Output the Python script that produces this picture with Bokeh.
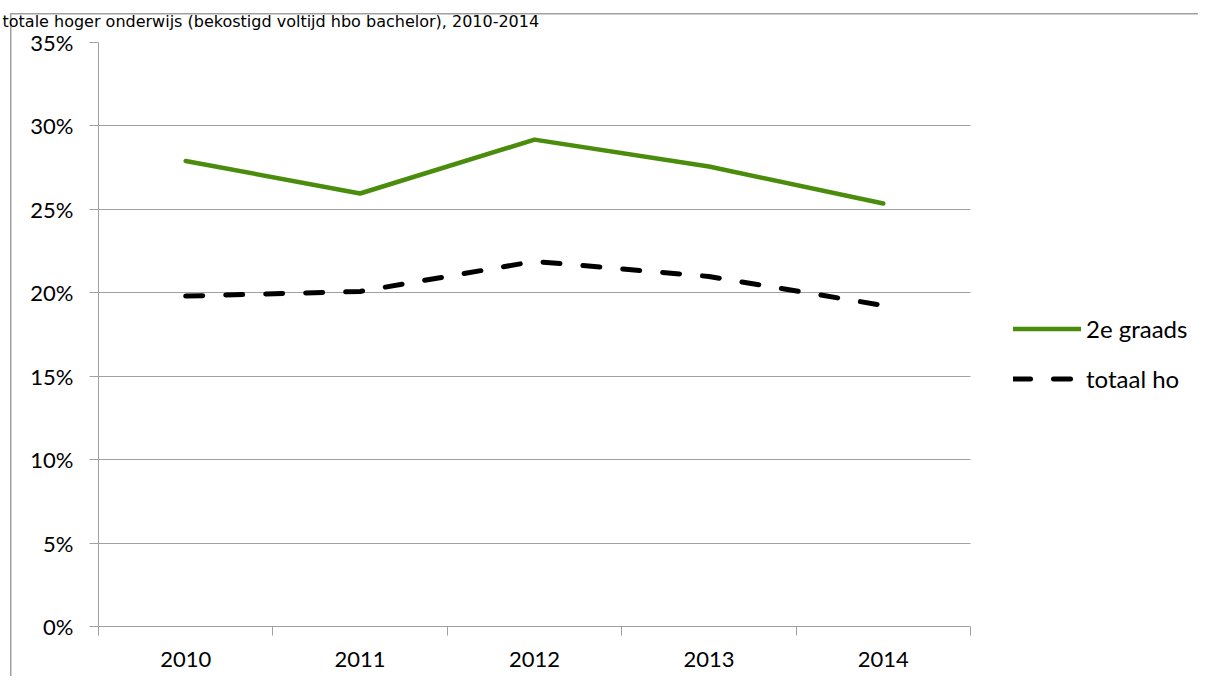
from bokeh.plotting import figure
from bokeh.models import (Range1d, FixedTicker, NumeralTickFormatter, Legend, LegendItem,
                          BoxAnnotation, ColumnDataSource)
from bokeh.embed import file_html
from bokeh.resources import INLINE

# ---- data ----
years = [2010, 2011, 2012, 2013, 2014]
year_labels = ["2010", "2011", "2012", "2013", "2014"]
tweedegraads = [0.279, 0.2595, 0.2918, 0.2757, 0.2535]
totaal_ho = [0.198, 0.2008, 0.2188, 0.2098, 0.1924]
y_ticks = [0.0, 0.05, 0.10, 0.15, 0.20, 0.25, 0.30, 0.35]
series_names = ["2e graads", "totaal ho"]
title_text = "totale hoger onderwijs (bekostigd voltijd hbo bachelor), 2010-2014"

GRID = "#A0A0A0"
GREEN = "#4A8C0C"
FONT = "Lato"

W, H = 1198, 676
LEFT, TOP, BOTTOM = 98, 42, 50
AXIS_W = 872                      # pixel width of the category axis
frame_w = W - LEFT
x0 = years[0] - 0.5
x_end = x0 + len(years) * frame_w / AXIS_W   # frame runs on under the legend

src = ColumnDataSource(dict(year=years, g=tweedegraads, t=totaal_ho))

# outer chart border (only its left and top edges fall inside the picture)
border_css = {
    "background-image": f"linear-gradient({GRID}, {GRID}), linear-gradient({GRID}, {GRID})",
    "background-size": "1.5px 100%, 100% 1.5px",
    "background-position": "9.5px 12.5px, 9.5px 12.5px",
    "background-repeat": "no-repeat",
}

p = figure(width=W, height=H, output_backend="svg", toolbar_location=None,
           x_range=Range1d(x0, x_end), y_range=Range1d(y_ticks[0], y_ticks[-1]),
           min_border_left=LEFT, min_border_right=0, min_border_top=TOP, min_border_bottom=BOTTOM,
           outline_line_color=None, background_fill_color="white", border_fill_color=None,
           styles=border_css)

p.title.text = title_text
p.title.text_font = "DejaVu Sans"
p.title.text_font_size = "16px"
p.title.text_font_style = "normal"
p.title.text_color = "black"
p.title.align = "left"
p.title.offset = -96
p.title.standoff = 19
p.title.vertical_align = "top"

# x axis
p.xaxis.bounds = (years[0] - 0.5, years[-1] + 0.5)
p.xaxis.ticker = FixedTicker(ticks=years, minor_ticks=[y - 0.5 for y in years] + [years[-1] + 0.5])
p.xaxis.major_label_overrides = {y: s for y, s in zip(years, year_labels)}
p.xaxis.major_tick_line_color = None
p.xaxis.minor_tick_line_color = GRID
p.xaxis.minor_tick_in = 0
p.xaxis.minor_tick_out = 9
p.xaxis.axis_line_color = GRID
p.xaxis.major_label_standoff = 16
p.xaxis.major_label_text_font = FONT
p.xaxis.major_label_text_font_size = "22px"
p.xaxis.major_label_text_color = "black"

# y axis
p.yaxis.ticker = FixedTicker(ticks=y_ticks, minor_ticks=[])
p.yaxis.formatter = NumeralTickFormatter(format="0%")
p.yaxis.major_tick_line_color = GRID
p.yaxis.major_tick_in = 0
p.yaxis.major_tick_out = 9
p.yaxis.minor_tick_line_color = None
p.yaxis.axis_line_color = GRID
p.yaxis.major_label_standoff = 16
p.yaxis.major_label_text_font = FONT
p.yaxis.major_label_text_font_size = "22px"
p.yaxis.major_label_text_color = "black"

p.xgrid.visible = False
p.ygrid.ticker = FixedTicker(ticks=y_ticks)
p.ygrid.grid_line_color = GRID
p.ygrid.grid_line_width = 1

g = p.line("year", "g", source=src, line_color=GREEN, line_width=4.5,
           line_cap="round", line_join="round")
t = p.line("year", "t", source=src, line_color="black", line_width=5,
           line_dash="17 23", line_cap="round", line_join="round")

# blank area right of the plot (where the legend sits)
p.add_layout(BoxAnnotation(left=years[-1] + 0.5, fill_color="white", fill_alpha=1,
                           line_color=None))

legend = Legend(items=[LegendItem(label=series_names[0], renderers=[g]),
                       LegendItem(label=series_names[1], renderers=[t])],
                location=(915, 233), glyph_width=68, glyph_height=29, label_height=29,
                spacing=21, padding=0, margin=0, border_line_color=None,
                background_fill_alpha=0, label_standoff=5,
                label_text_font=FONT, label_text_font_size="24px", label_text_color="black")
p.add_layout(legend)

open("out.html", "w").write(file_html(p, INLINE))
